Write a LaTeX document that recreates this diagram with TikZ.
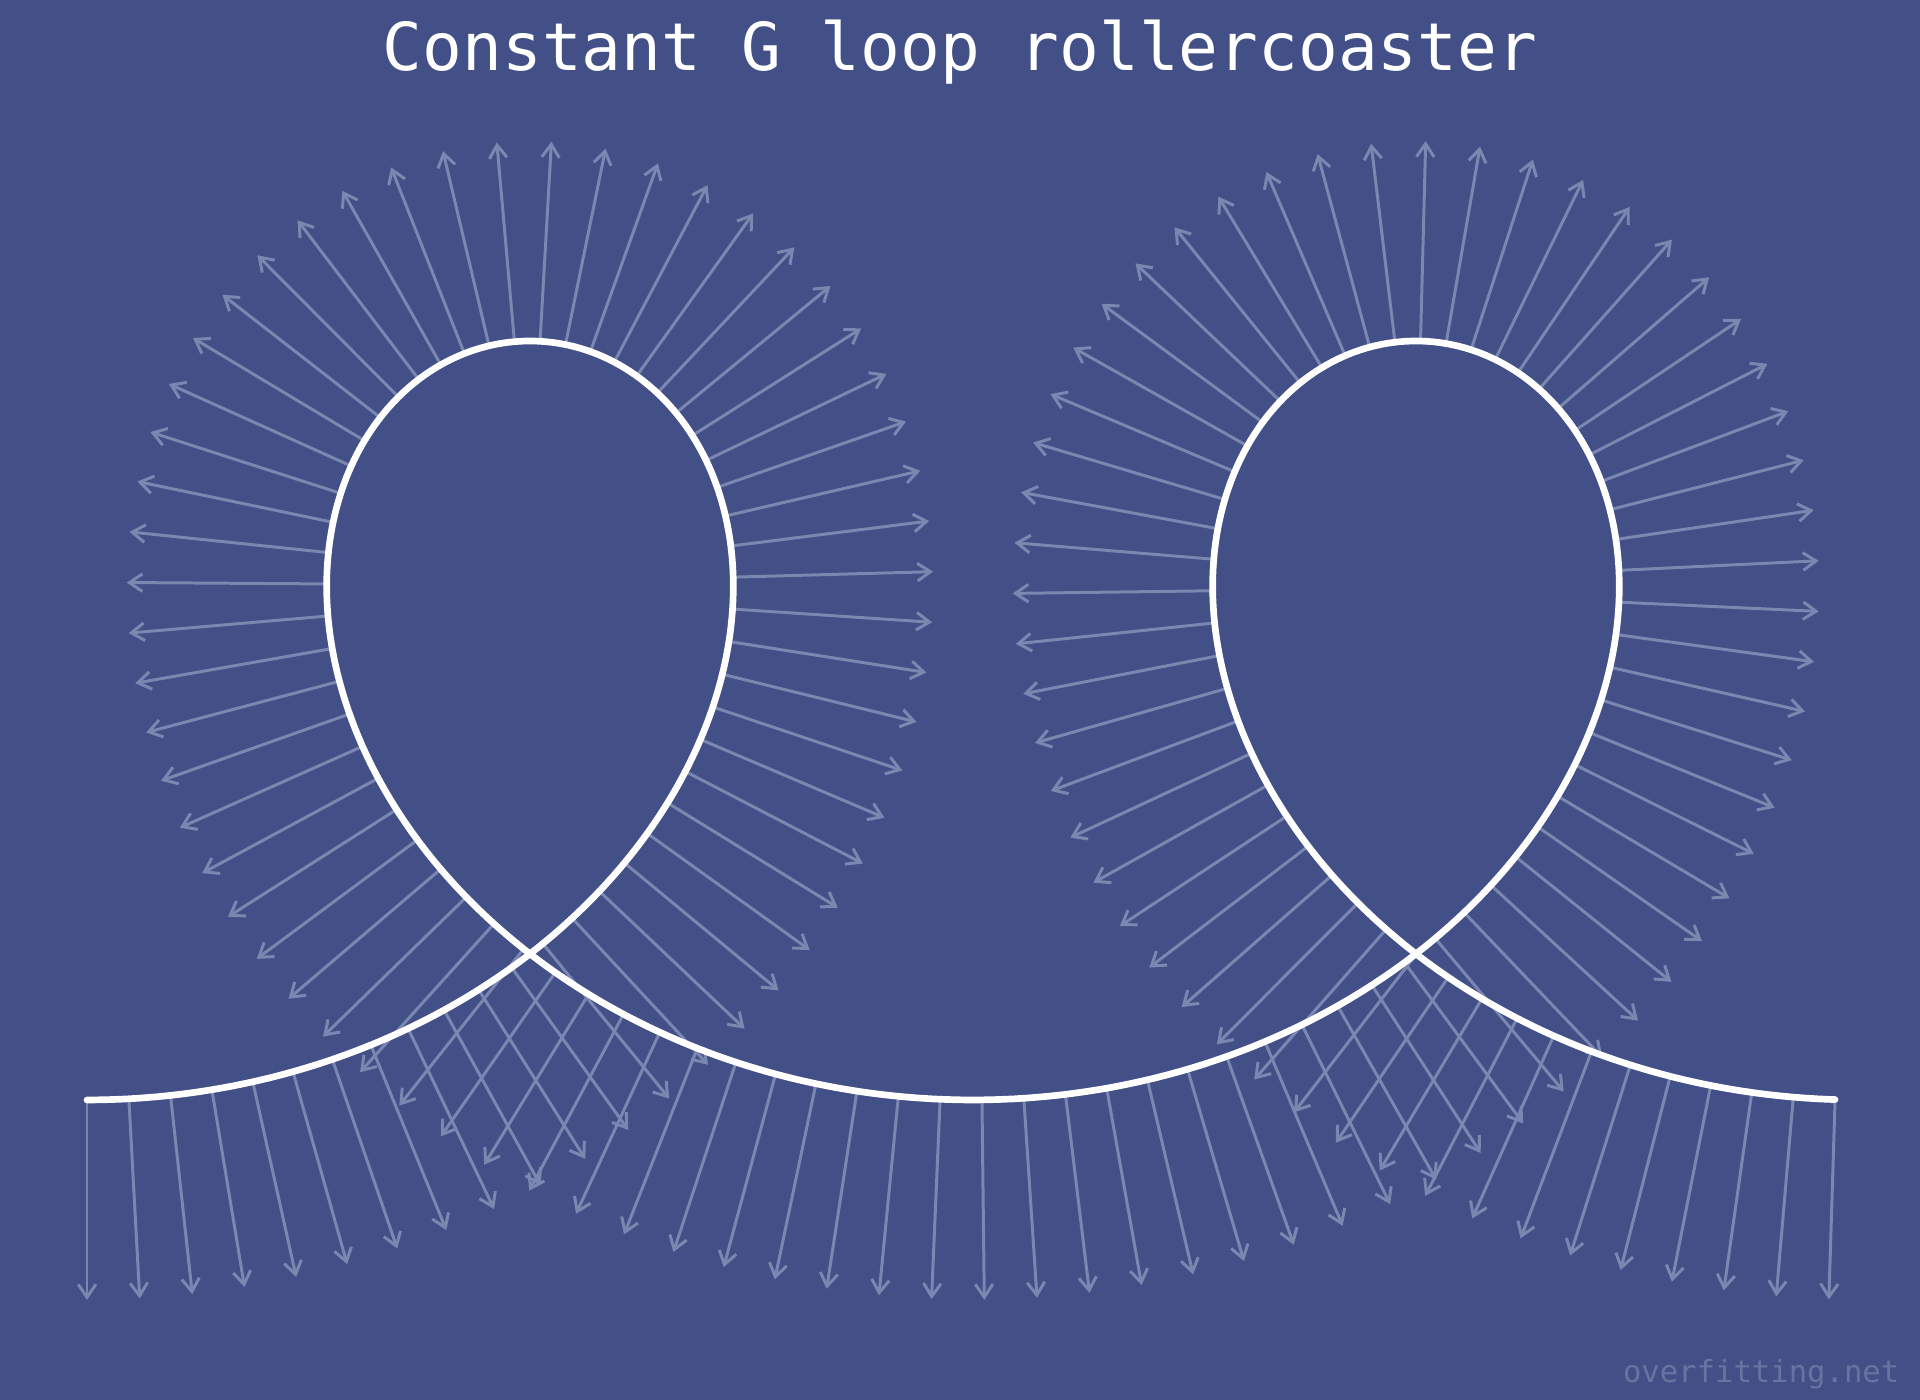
\documentclass[tikz,border=0pt]{standalone}
\usepackage{fontspec}
\newfontfamily\monofont{DejaVu Sans Mono}
\usepackage{xcolor}
\definecolor{cBack}{HTML}{434F87}
\definecolor{cVec}{HTML}{7A87B0}
\definecolor{cMark}{HTML}{6973A0}
\usepackage{tikz}
\usetikzlibrary{arrows.meta}
\tikzset{
  track-line/.style={draw=white,line width=1.9pt,line join=round,line cap=round},
  g-vector/.style={draw=cVec,line width=0.85pt,
    -{Straight Barb[length=3.7pt,width=5pt]}},
  title-text/.style={text=white,font=\monofont\fontsize{18.8}{22}\selectfont},
  mark-text/.style={text=cMark,font=\monofont\fontsize{8.7}{10}\selectfont},
}
% ride constants (pixel units): G factor, (G-1)^2, v0^2/2g, dtheta/dt factor (deg), v0(G-1)
\def\gfac{4.16}
\def\gsq{9.9856}
\def\hhalf{1214.45}
\def\cth{0.31260}
\def\cx{132.33}

\begin{document}
\begin{tikzpicture}[x=0.01cm,y=0.01cm]
  \fill[cBack] (0,0) rectangle (1920,1400);
  % integrate the ride: 145 time steps, 8 sub-steps each (midpoint rule)
  \xdef\angT{0}\xdef\posX{0}
  \coordinate (q0) at (87,300);
  \coordinate (b0) at (87,300);
  \path (b0) ++(-90:200) coordinate (e0);
  \foreach \k in {1,...,145} {
    \foreach \j in {1,...,8} {
      \pgfmathsetmacro\angM{\angT+0.0625*\cth*(\gfac-cos(\angT))^2}
      \pgfmathsetmacro\angN{\angT+0.125*\cth*(\gfac-cos(\angM))^2}
      \pgfmathsetmacro\posN{\posX+0.125*\cx*cos(\angM)/(\gfac-cos(\angM))}
      \pgfmathsetmacro\hgt{\hhalf*(1-\gsq/(\gfac-cos(\angN))^2)}
      \pgfmathtruncatemacro\n{8*(\k-1)+\j}
      \coordinate (q\n) at (87+\posN,300+\hgt);
      \xdef\angT{\angN}\xdef\posX{\posN}
    }
    \pgfmathtruncatemacro\m{8*\k}
    \coordinate (b\k) at (q\m);
    \path (b\k) ++(\angT-90:200) coordinate (e\k);
  }
  % g vectors, then the track on top
  \foreach \k in {0,...,145}
    \draw[g-vector] (b\k) -- (e\k);
  \draw[track-line] (q0) \foreach \n in {1,...,1160} { -- (q\n) };
  \node[title-text,anchor=base] (title) at (960,1329) {Constant G loop rollercoaster};
  \node[mark-text,anchor=base east,inner sep=0pt] (mark) at (1900,17) {overfitting.net};
\end{tikzpicture}
\end{document}
